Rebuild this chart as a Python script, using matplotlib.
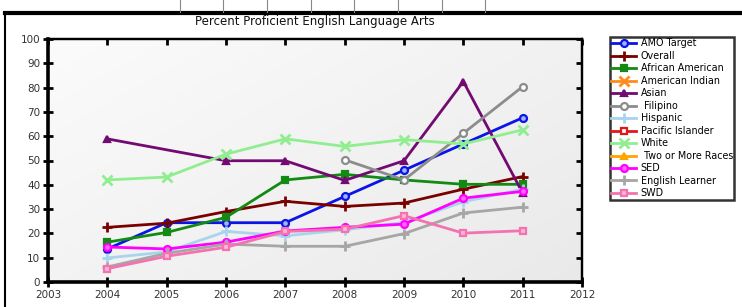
import numpy as np
import matplotlib
matplotlib.use("Agg")
import matplotlib.pyplot as plt
from matplotlib.lines import Line2D

YEARS = [2004, 2005, 2006, 2007, 2008, 2009, 2010, 2011]
NA = np.nan

amo = [13.6, 24.4, 24.4, 24.4, 35.2, 46.0, 56.8, 67.6]
overall = [22.5, 24.2, 29.0, 33.2, 31.1, 32.5, 38.2, 43.4]
african_american = [16.4, 20.4, 26.6, 42.0, 44.3, 42.0, 40.2, 40.2]
american_indian = [NA] * 8
asian = [58.9, NA, 49.9, 49.9, 41.8, 49.9, 82.5, 36.6]
filipino = [NA, NA, NA, NA, 50.3, 42.0, 61.2, 80.4]
hispanic = [9.9, 12.4, 20.8, 19.0, 21.5, 24.5, 33.0, 38.2]
pacific_islander = [NA] * 8
white = [42.0, 43.2, 52.6, 58.9, 55.8, 58.6, 56.8, 62.6]
two_or_more = [NA] * 8
sed = [14.4, 13.6, 16.4, 21.0, 22.5, 23.8, 34.5, 37.3]
english_learner = [6.2, 11.8, 15.6, 14.7, 14.7, 19.9, 28.4, 30.8]
swd = [5.5, 10.6, 14.3, 20.8, 21.7, 27.3, 20.1, 21.1]

LABELS = ["AMO Target", "Overall", "African American", "American Indian", "Asian",
          " Filipino", "Hispanic", "Pacific Islander", "White", " Two or More Races",
          "SED", "English Learner", "SWD"]
SERIES = [amo, overall, african_american, american_indian, asian, filipino, hispanic,
          pacific_islander, white, two_or_more, sed, english_learner, swd]
# color, marker, marker face
STYLES = [("#0a14e6", "o", "#9fb4ff"), ("#7a0000", "+", None), ("#138a13", "s", "#138a13"),
          ("#ff8c1a", "x", None), ("#720a72", "^", "#720a72"), ("#8c8c8c", "o", "white"),
          ("#a9d4ee", "+", None), ("#e01818", "s", "white"), ("#90ee90", "x", None),
          ("#ffa500", "^", "#ffa500"), ("#ff00ff", "o", "#ff66ff"), ("#a6a6a6", "+", None),
          ("#f472b0", "s", "#ffb6d8")]

fig = plt.figure(figsize=(7.42, 3.07), dpi=100)
fig.patch.set_facecolor("white")
ax = fig.add_axes([48 / 742, 1 - 282 / 307, 534 / 742, 243 / 307])

# gradient background, near white top-left to light grey bottom-right
gx, gy = np.meshgrid(np.linspace(0, 1, 200), np.linspace(0, 1, 200))
shade = 0.985 - 0.07 * (0.55 * gx + 0.45 * gy)
ax.imshow(np.dstack([shade] * 3), extent=[2003, 2012, 0, 100], aspect="auto",
          zorder=0, origin="upper")

for vals, lab, (col, mk, mfc) in zip(SERIES, LABELS, STYLES):
    y = np.array(vals, dtype=float)
    ok = ~np.isnan(y)
    kw = dict(color=col, lw=2.0, marker=mk, ms=5, label=lab, zorder=3)
    if mk in ("+", "x"):
        kw.update(mew=2.0, ms=6.5)
    else:
        kw.update(mfc=mfc, mec=col, mew=1.6)
    ax.plot(np.array(YEARS)[ok], y[ok], **kw)

ax.set_xlim(2003, 2012)
ax.set_ylim(0, 100)
ax.set_xticks(range(2003, 2013))
ax.set_yticks(range(0, 101, 10))
ax.tick_params(axis="both", labelsize=7.5, labelcolor="#333333", width=2, length=7,
               direction="inout", pad=2)
for side in ("left", "bottom"):
    ax.spines[side].set_linewidth(2.6)
for side in ("top", "right"):
    ax.spines[side].set_linewidth(1.6)

top = ax.secondary_xaxis("top")
top.set_xticks(range(2003, 2013))
top.tick_params(direction="in", length=4, width=2, labeltop=False)
top.spines["top"].set_linewidth(1.6)
right = ax.secondary_yaxis("right")
right.set_yticks(range(0, 101, 10))
right.tick_params(direction="in", length=4, width=2, labelright=False)
right.spines["right"].set_linewidth(1.6)

fig.text(315 / 742, 1 - 22 / 307, "Percent Proficient English Language Arts",
         ha="center", va="center", fontsize=8.5, color="#111111")

leg = ax.legend(loc="upper left", bbox_to_anchor=(610 / 742, 1 - 37 / 307),
                bbox_transform=fig.transFigure, fontsize=6.9, frameon=True,
                fancybox=False, edgecolor="black", handlelength=2.6,
                labelspacing=0.26, borderpad=0.15, handletextpad=0.45,
                borderaxespad=0)
leg.get_frame().set_linewidth(1.8)

# outer frame and cropped header row
fig.add_artist(Line2D([5 / 742, 1], [1 - 13 / 307] * 2, color="black", lw=3,
                      transform=fig.transFigure))
fig.add_artist(Line2D([5 / 742] * 2, [0, 1 - 13 / 307], color="black", lw=1.5,
                      transform=fig.transFigure))
for xs in [180, 223, 267, 311, 354, 398, 442, 485]:
    fig.add_artist(Line2D([xs / 742] * 2, [1 - 12 / 307, 1], color="#888888", lw=0.8,
                          transform=fig.transFigure))

fig.savefig("out.png", dpi=100)
